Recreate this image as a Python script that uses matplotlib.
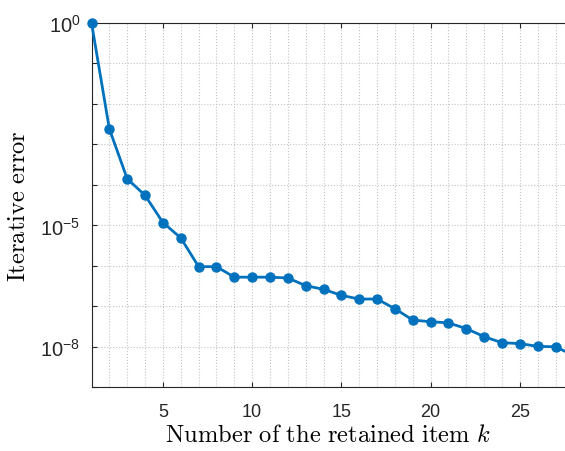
import numpy as np
import matplotlib
matplotlib.use('Agg')
from matplotlib import pyplot as plt
from matplotlib.ticker import FixedLocator, MultipleLocator, NullFormatter

# sans math for the tick labels, Computer Modern for the axis labels
plt.rcParams['mathtext.fontset'] = 'custom'
plt.rcParams['mathtext.rm'] = 'Liberation Sans'
plt.rcParams['mathtext.it'] = 'Liberation Sans:italic'
plt.rcParams['mathtext.bf'] = 'Liberation Sans:bold'
plt.rcParams['font.family'] = ['Liberation Sans', 'DejaVu Sans']

# retained item index and log10 of the iterative error
k = np.arange(1, 29)
log_err = [0.00, -2.62, -3.85, -4.26, -4.93, -5.31, -6.02, -6.02, -6.28, -6.28,
           -6.28, -6.30, -6.49, -6.58, -6.73, -6.82, -6.82, -7.06, -7.34, -7.38,
           -7.41, -7.55, -7.75, -7.90, -7.92, -7.99, -8.00, -8.21]
err = 10.0 ** np.array(log_err)

ytick_vals = [1e-8, 1e-5, 1e0]
ytick_labels = [r'$10^{-8}$', r'$10^{-5}$', r'$10^{0}$']
xtick_vals = [5, 10, 15, 20, 25]
xtick_labels = ['5', '10', '15', '20', '25']

fig = plt.figure(figsize=(5.65, 4.52), dpi=100)
ax = fig.add_axes([0.162, 0.141, 0.838, 0.806])

# not clipped so the first marker sits whole on the corner
ax.plot(k, err, '-o', color='#0072BD', lw=2.0, ms=6.5, clip_on=False, zorder=3)

ax.set_yscale('log')
ax.set_xlim(1, 27.53)
ax.set_ylim(1e-9, 1)

ax.xaxis.set_major_locator(FixedLocator(xtick_vals))
ax.xaxis.set_minor_locator(MultipleLocator(1))
ax.set_xticklabels(xtick_labels)
ax.yaxis.set_major_locator(FixedLocator(ytick_vals))
ax.yaxis.set_minor_locator(FixedLocator([10.0 ** e for e in range(-9, 1)]))
ax.yaxis.set_minor_formatter(NullFormatter())
ax.set_yticklabels(ytick_labels)

ax.grid(True, which='both', ls=':', color='#c4c4c4', lw=0.8)
ax.tick_params(which='both', direction='in', top=True, right=False,
               colors='#262626', length=3.6, width=0.8)
ax.tick_params(axis='x', which='minor', length=0)
ax.tick_params(axis='x', labelsize=13, pad=11)
ax.tick_params(axis='y', labelsize=14.5, pad=8)

for s in ['left', 'bottom', 'top']:
    ax.spines[s].set_color('#262626')
    ax.spines[s].set_linewidth(0.8)
ax.spines['right'].set_visible(False)

ax.set_xlabel(r'$\mathrm{Number\ of\ the\ retained\ item}\ k$', fontsize=17.7,
              math_fontfamily='cm')
ax.set_ylabel(r'$\mathrm{Iterative\ error}$', fontsize=17.7, math_fontfamily='cm')
ax.xaxis.set_label_coords(0.5, -0.095)
ax.yaxis.set_label_coords(-0.13, 0.5)

fig.savefig('out.png', dpi=100)
